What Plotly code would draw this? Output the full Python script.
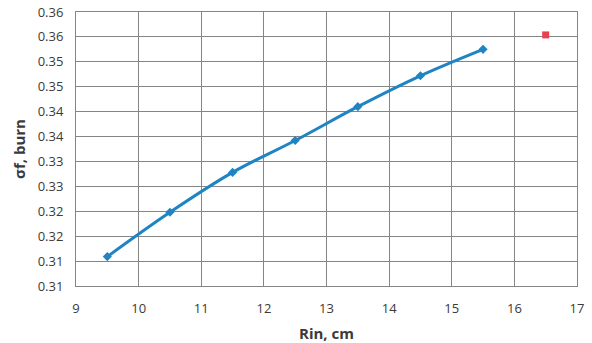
import plotly.graph_objects as go

rin = [9.5, 10.5, 11.5, 12.5, 13.5, 14.5, 15.5]
sigma_f = [0.3109, 0.3198, 0.3278, 0.3342, 0.3410, 0.3472, 0.3525]
ref_x = [16.5]
ref_y = [0.3554]

x_ticks = [9, 10, 11, 12, 13, 14, 15, 16, 17]
y_tickvals = [0.305, 0.310, 0.315, 0.320, 0.325, 0.330, 0.335, 0.340, 0.345, 0.350, 0.355, 0.360]
y_ticktext = ["0.31", "0.31", "0.32", "0.32", "0.33", "0.33", "0.34", "0.34", "0.35", "0.35", "0.36", "0.36"]

fig = go.Figure()
fig.add_trace(go.Scatter(
    x=rin, y=sigma_f, mode="lines+markers",
    line=dict(color="#1f84c4", width=3, shape="spline"),
    marker=dict(symbol="diamond", size=7, color="#1f84c4"),
    showlegend=False,
))
fig.add_trace(go.Scatter(
    x=ref_x, y=ref_y, mode="markers",
    marker=dict(symbol="square", size=7, color="#e8404f"),
    showlegend=False,
))

fam = "Open Sans, Liberation Sans, sans-serif"
font_tick = dict(family=fam, size=13, color="#3a3a3a")
title_font = dict(family=fam, size=15, color="#3a3a3a")
fig.update_layout(
    width=592, height=343,
    margin=dict(l=76, r=15, t=12, b=57),
    paper_bgcolor="white", plot_bgcolor="white",
    font=font_tick,
    xaxis=dict(
        range=[9, 17], tickvals=x_ticks, showgrid=True, gridcolor="#858585", gridwidth=1,
        showline=True, linecolor="#858585", mirror=True, zeroline=False, automargin=False,
        ticks="", tickfont=font_tick, ticklabelstandoff=10,
        title=dict(text="<b>Rin, cm</b>", font=title_font, standoff=12),
    ),
    yaxis=dict(
        range=[0.305, 0.360], tickvals=y_tickvals, ticktext=y_ticktext,
        showgrid=True, gridcolor="#858585", gridwidth=1,
        showline=True, linecolor="#858585", mirror=True, zeroline=False, automargin=False,
        ticks="", tickfont=font_tick, ticklabelstandoff=9,
        title=dict(text="<b>σf, burn</b>", font=title_font, standoff=8),
    ),
)

fig.write_html("out.html", config={"displayModeBar": False},
               post_script="document.body.style.margin='0';document.body.style.overflow='hidden';")
